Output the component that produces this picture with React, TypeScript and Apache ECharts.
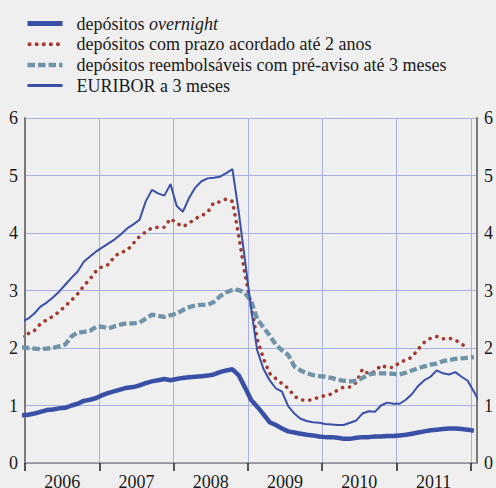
import React, { useEffect, useRef } from "react";
import * as echarts from "echarts";

// Months from Dec 2005 to Feb 2012 (monthly averages, plotted mid-month)
const monthLabels: string[] = [];
for (let y = 2005; y <= 2012; y++) {
  for (let m = 1; m <= 12; m++) {
    if ((y === 2005 && m < 12) || (y === 2012 && m > 2)) continue;
    monthLabels.push(`${y}-${String(m).padStart(2, "0")}`);
  }
}

const yearLabels = ["2006", "2007", "2008", "2009", "2010", "2011"];
const yTicks = [0, 1, 2, 3, 4, 5, 6];

const seriesNames = [
  "depósitos overnight",
  "depósitos com prazo acordado até 2 anos",
  "depósitos reembolsáveis com pré-aviso até 3 meses",
  "EURIBOR a 3 meses",
];

// values aligned with monthLabels (Dec 2005 ... Feb 2012)
const overnight: (number | null)[] = [
  0.83,
  0.84, 0.86, 0.89, 0.92, 0.93, 0.95, 0.96, 1.0, 1.03, 1.08, 1.1, 1.13,
  1.18, 1.22, 1.25, 1.28, 1.31, 1.32, 1.35, 1.39, 1.42, 1.44, 1.46, 1.44,
  1.46, 1.48, 1.49, 1.5, 1.51, 1.52, 1.54, 1.58, 1.61, 1.63, 1.53, 1.32,
  1.1, 0.98, 0.85, 0.71, 0.66, 0.6, 0.55, 0.53, 0.51, 0.49, 0.48, 0.46,
  0.45, 0.45, 0.44, 0.42, 0.42, 0.44, 0.45, 0.45, 0.46, 0.46, 0.47, 0.47,
  0.48, 0.49, 0.51, 0.53, 0.55, 0.57, 0.58, 0.59, 0.6, 0.6, 0.59, 0.58,
  0.56, null,
];

const prazo: (number | null)[] = [
  2.2,
  2.25, 2.3, 2.42, 2.49, 2.55, 2.63, 2.73, 2.83, 2.94, 3.08, 3.2, 3.34,
  3.42, 3.45, 3.6, 3.66, 3.7, 3.82, 3.94, 4.02, 4.09, 4.1, 4.1, 4.25,
  4.17, 4.11, 4.17, 4.25, 4.3, 4.36, 4.53, 4.54, 4.59, 4.55, 3.97, 3.3,
  2.75, 2.15, 1.82, 1.56, 1.47, 1.38, 1.3, 1.16, 1.1, 1.09, 1.1, 1.15,
  1.17, 1.2, 1.27, 1.32, 1.32, 1.4, 1.63, 1.55, 1.59, 1.7, 1.66, 1.66,
  1.75, 1.79, 1.84, 1.98, 2.1, 2.17, 2.2, 2.16, 2.17, 2.14, 2.07, 2.0,
  null, null,
];

const preAviso: (number | null)[] = [
  2.01,
  2.0, 1.99, 1.98, 1.99, 2.0, 2.03, 2.06, 2.2, 2.27, 2.28, 2.3, 2.37,
  2.37, 2.34, 2.38, 2.41, 2.43, 2.43, 2.44, 2.51, 2.58, 2.56, 2.54, 2.57,
  2.6, 2.66, 2.71, 2.74, 2.75, 2.75, 2.8, 2.9, 2.97, 3.01, 3.01, 2.96,
  2.82, 2.5, 2.36, 2.22, 2.06, 1.96, 1.88, 1.68, 1.61, 1.56, 1.53, 1.51,
  1.5, 1.48, 1.45, 1.43, 1.42, 1.43, 1.48, 1.54, 1.56, 1.56, 1.56, 1.55,
  1.54, 1.57, 1.61, 1.65, 1.68, 1.71, 1.73, 1.77, 1.79, 1.81, 1.82, 1.83,
  1.84, null,
];

const euribor: (number | null)[] = [
  2.46,
  2.51, 2.6, 2.72, 2.79, 2.88, 2.98, 3.1, 3.22, 3.33, 3.5, 3.59, 3.68,
  3.75, 3.82, 3.89, 3.98, 4.08, 4.15, 4.23, 4.55, 4.75, 4.69, 4.65, 4.85,
  4.47, 4.37, 4.61, 4.79, 4.9, 4.95, 4.96, 4.98, 5.04, 5.11, 4.38, 3.55,
  2.7, 1.96, 1.64, 1.44, 1.3, 1.24, 0.99, 0.86, 0.77, 0.73, 0.71, 0.7,
  0.68, 0.67, 0.66, 0.66, 0.7, 0.74, 0.86, 0.9, 0.89, 1.0, 1.05, 1.03,
  1.03, 1.1, 1.2, 1.34, 1.44, 1.5, 1.61, 1.56, 1.54, 1.58, 1.5, 1.43,
  1.24, 1.05,
];

const FONT = "'Liberation Serif', 'Times New Roman', serif";
const BLUE = "#3a50a6";
const RED = "#a33a2e";
const GREYBLUE = "#7193a7";
const GRID = "#a9b0e2";
const TEXT = "#1a1a1a";

function monthPos(label: string): number {
  const [y, m] = label.split("-").map(Number);
  return (y - 2006) * 12 + (m - 1) + 0.5;
}

function toPoints(values: (number | null)[]): number[][] {
  const out: number[][] = [];
  values.forEach((v, k) => {
    if (v !== null) out.push([monthPos(monthLabels[k]), v]);
  });
  return out;
}

export default function App() {
  const ref = useRef<HTMLDivElement>(null);

  useEffect(() => {
    if (!ref.current) return;
    const chart = echarts.init(ref.current, undefined, { renderer: "svg" });
    const yearTickValues = yearLabels.map((_, i) => i * 12).concat([yearLabels.length * 12]);
    const yearLabelValues = yearLabels.map((_, i) => i * 12 + 6);

    const yAxisCommon = {
      type: "value",
      min: yTicks[0],
      max: yTicks[yTicks.length - 1],
      interval: 1,
      axisLine: { show: true, lineStyle: { color: "#7a7a7a", width: 2 } },
      axisTick: { show: false },
      axisLabel: { fontFamily: FONT, fontSize: 18, color: TEXT, margin: 7 },
    };

    const hidden = { opacity: 0 };

    chart.setOption({
      animation: false,
      backgroundColor: "#efefef",
      textStyle: { fontFamily: FONT },
      legend: {
        orient: "vertical",
        left: 25,
        top: 14.5,
        padding: 0,
        itemWidth: 35,
        itemHeight: 14,
        itemGap: 2.7,
        selectedMode: false,
        textStyle: {
          fontFamily: FONT,
          fontSize: 18,
          color: TEXT,
          padding: [0, 0, 0, 9],
          rich: {
            i: { fontFamily: FONT, fontSize: 18, fontStyle: "italic", color: TEXT },
          },
        },
        formatter: (name: string) =>
          name === seriesNames[0] ? "depósitos {i|overnight}" : name,
        data: [
          { name: seriesNames[0], lineStyle: { width: 5 }, itemStyle: hidden },
          { name: seriesNames[1], lineStyle: { width: 4, dashOffset: -2.3 }, itemStyle: hidden },
          { name: seriesNames[2], lineStyle: { width: 4.5 }, itemStyle: hidden },
          { name: seriesNames[3], lineStyle: { width: 3 }, itemStyle: hidden },
        ],
      },
      grid: { left: 25, right: 19, top: 118, bottom: 25, containLabel: false, outerBoundsMode: "none" },
      xAxis: {
        type: "value",
        min: 0,
        max: 73,
        interval: 12,
        axisLine: { show: true, lineStyle: { color: "#8a8a8a", width: 1.5 } },
        axisTick: {
          show: true,
          length: 8,
          customValues: yearTickValues,
          lineStyle: { color: "#222", width: 1.5 },
        },
        axisLabel: {
          customValues: yearLabelValues,
          formatter: (v: number) => yearLabels[Math.floor(v / 12)] ?? "",
          fontFamily: FONT,
          fontSize: 18,
          color: TEXT,
          margin: 10,
        },
        splitLine: { show: true, lineStyle: { color: GRID, width: 1 } },
      },
      yAxis: [
        {
          ...yAxisCommon,
          position: "left",
          splitLine: { show: true, lineStyle: { color: GRID, width: 1 } },
        },
        {
          ...yAxisCommon,
          position: "right",
          splitLine: { show: false },
        },
      ],
      series: [
        {
          name: seriesNames[0],
          type: "line",
          data: toPoints(overnight),
          symbol: "none",
          lineStyle: { color: BLUE, width: 4.5 },
          itemStyle: { color: BLUE },
          z: 3,
        },
        {
          name: seriesNames[1],
          type: "line",
          data: toPoints(prazo),
          symbol: "none",
          lineStyle: { color: RED, width: 3.6, type: [0.1, 7], cap: "round" },
          itemStyle: { color: RED },
          z: 2,
        },
        {
          name: seriesNames[2],
          type: "line",
          data: toPoints(preAviso),
          symbol: "none",
          lineStyle: { color: GREYBLUE, width: 4.3, type: [7.5, 3] },
          itemStyle: { color: GREYBLUE },
          z: 2,
        },
        {
          name: seriesNames[3],
          type: "line",
          data: toPoints(euribor),
          symbol: "none",
          lineStyle: { color: BLUE, width: 2 },
          itemStyle: { color: BLUE },
          z: 4,
        },
      ],
    });
    return () => chart.dispose();
  }, []);

  return (
    <div
      ref={ref}
      style={{ position: "absolute", left: 0, top: 0, width: 496, height: 488 }}
    />
  );
}
